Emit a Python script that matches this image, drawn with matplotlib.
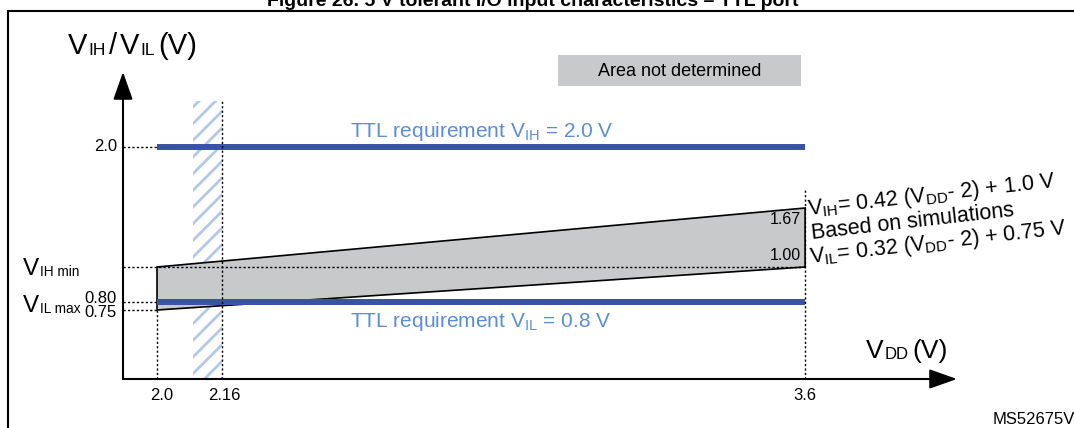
import numpy as np
import matplotlib
matplotlib.use("Agg")
import matplotlib.pyplot as plt
from matplotlib.patches import Rectangle, Polygon

# ---------------- data ----------------
VDD_RANGE = [2.0, 3.6]            # VDD span of the characteristics
TTL_VIH = 2.0                     # TTL requirement VIH
TTL_VIL = 0.8                     # TTL requirement VIL
VIH_LINE = [1.00, 1.67]           # VIH at VDD = 2.0 and 3.6
VIL_LINE = [0.75, 1.00]           # VIL at VDD = 2.0 and 3.6
UNDEFINED_VDD = [2.09, 2.16]      # hatched band
UNDEFINED_TOP = 2.245
X_TICKS = [2.0, 2.16, 3.6]
X_TICK_LABELS = ["2.0", "2.16", "3.6"]
Y_TICKS = [2.0, 0.80, 0.75]
Y_TICK_LABELS = ["2.0", "0.80", "0.75"]
RIGHT_LABELS = ["1.67", "1.00"]

# schematic (non-linear) vertical axis: value -> height in px above x axis
Y_SCHEM_VALUES = [0.0, 0.75, 0.80, 1.00, 1.67, 2.00, 2.40]
Y_SCHEM_HEIGHT = [0, 69, 77, 112, 171, 232, 307]

def fwd(v):
    return np.interp(v, Y_SCHEM_VALUES, Y_SCHEM_HEIGHT)

def inv(p):
    return np.interp(p, Y_SCHEM_HEIGHT, Y_SCHEM_VALUES)

# ---------------- style ----------------
W, H = 1074, 428
plt.rcParams.update({
    "font.family": ["Liberation Sans", "DejaVu Sans"],
    "mathtext.fontset": "custom",
    "mathtext.rm": "Liberation Sans",
    "mathtext.it": "Liberation Sans:italic",
    "mathtext.bf": "Liberation Sans:bold",
    "hatch.linewidth": 2.0,
})
BLUE = "#3953a4"
LBLUE = "#5b8dd6"
GRAY = "#c8c9cb"
HATCH = "#b3c8e8"
DOT = dict(color="black", lw=1.0, ls=(0, (1.6, 1.6)), zorder=5)

def P(x, y):
    return (x / W, 1 - y / H)

def ptext(x, y, s, **kw):
    kw.setdefault("ha", "left")
    kw.setdefault("va", "baseline")
    return fig.text(*P(x, y), s, **kw)

def seq(x, y, parts):
    """Lay text pieces (text, fontsize, dy, gap) left to right from pixel (x, y)."""
    renderer = fig.canvas.get_renderer()
    cur = x
    for s, fs, dy, gap in parts:
        cur += gap
        t = ptext(cur, y + dy, s, fontsize=fs)
        cur = t.get_window_extent(renderer).x1

fig = plt.figure(figsize=(W / 100, H / 100), dpi=100)
ax = fig.add_axes([123 / W, 49 / H, 834 / W, 307 / H])
ax.set_yscale("function", functions=(fwd, inv))
ax.set_xlim(1.916, 3.975)
ax.set_ylim(0, 2.4)
ax.axis("off")
x0 = ax.get_xlim()[0]

# hatched undefined band
band = Rectangle((UNDEFINED_VDD[0], 0), UNDEFINED_VDD[1] - UNDEFINED_VDD[0], UNDEFINED_TOP,
                 facecolor="none", edgecolor=HATCH, hatch="//", lw=0, zorder=1)
ax.add_patch(band)

# gray characteristics area
poly = Polygon([(VDD_RANGE[0], VIH_LINE[0]), (VDD_RANGE[1], VIH_LINE[1]),
                (VDD_RANGE[1], VIL_LINE[1]), (VDD_RANGE[0], VIL_LINE[0])],
               closed=True, facecolor=GRAY, edgecolor="black", lw=1.2, zorder=2)
ax.add_patch(poly)

# TTL requirement lines
ax.plot(VDD_RANGE, [TTL_VIH, TTL_VIH], color=BLUE, lw=4.3, solid_capstyle="butt", zorder=3)
ax.plot(VDD_RANGE, [TTL_VIL, TTL_VIL], color=BLUE, lw=4.3, solid_capstyle="butt", zorder=3)

# dotted guide lines
ax.plot([x0, VDD_RANGE[0]], [TTL_VIH, TTL_VIH], **DOT)
ax.plot([x0, VDD_RANGE[1]], [VIH_LINE[0], VIH_LINE[0]], **DOT)
ax.plot([x0, VDD_RANGE[0]], [TTL_VIL, TTL_VIL], **DOT)
ax.plot([x0, VDD_RANGE[0]], [VIL_LINE[0], VIL_LINE[0]], **DOT)
ax.plot([VDD_RANGE[0], VDD_RANGE[0]], [0, VIL_LINE[0]], **DOT)
ax.plot([UNDEFINED_VDD[1], UNDEFINED_VDD[1]], [0, UNDEFINED_TOP], **DOT)
ax.plot([VDD_RANGE[1], VDD_RANGE[1]], [0, 1.77], **DOT)

# axes arrows
arrow = dict(arrowstyle="-|>,head_length=1.7,head_width=0.6", lw=1.5, color="black",
             shrinkA=0, shrinkB=0, mutation_scale=10)
ax.annotate("", xy=(1, 0), xytext=(0, 0), xycoords="axes fraction", arrowprops=arrow,
            annotation_clip=False)
ax.annotate("", xy=(0, 1), xytext=(0, 0), xycoords="axes fraction", arrowprops=arrow,
            annotation_clip=False)

# tick labels
for x, lab in zip(X_TICKS, X_TICK_LABELS):
    dx = 5 if lab == "2.0" else (2 if lab == "2.16" else 0)
    ax.annotate(lab, xy=(x, 0), xycoords=("data", "axes fraction"), xytext=(dx, -16),
                textcoords="offset pixels", ha="center", va="center", fontsize=12)
y_offsets = {"2.0": (-6, 0, "center"), "0.80": (-6, -1, "baseline"), "0.75": (-6, -7, "baseline")}
for y, lab in zip(Y_TICKS, Y_TICK_LABELS):
    dx, dy, va = y_offsets[lab]
    ax.annotate(lab, xy=(0, y), xycoords=("axes fraction", "data"), xytext=(dx, dy),
                textcoords="offset pixels", ha="right", va=va, fontsize=12)
ax.annotate(RIGHT_LABELS[0], xy=(VDD_RANGE[1], VIH_LINE[1]), xytext=(-4, -12),
            textcoords="offset pixels", ha="right", va="center", fontsize=11.5, zorder=6)
ax.annotate(RIGHT_LABELS[1], xy=(VDD_RANGE[1], VIL_LINE[1]), xytext=(-4, 11),
            textcoords="offset pixels", ha="right", va="center", fontsize=11.5, zorder=6)

# frame and title
fig.add_artist(Rectangle((8 / W, -0.2), 2, (H - 11) / H + 0.2, transform=fig.transFigure,
                         fill=False, lw=1.5, edgecolor="black"))
ptext(533, 6, "Figure 26. 5 V tolerant I/O input characteristics \u2013 TTL port",
      ha="center", fontsize=14, fontweight="bold")

# axis titles (main glyphs with small baseline subscripts)
seq(68, 54, [("V", 21, 0, 0), ("IH", 12.5, 1, 0.5), ("/", 21, 0, 4), ("V", 21, 0, 3),
             ("IL", 12.5, 1, 0.5), ("(V)", 21, 0, 4)])
seq(866, 358, [("V", 19, 0, 0), ("DD", 12, 1, 0.5), ("(V)", 19, 0, 4)])
seq(23, 275, [("V", 17.5, 0, 0), ("IH min", 9.8, 1, 0.5)])
seq(23, 312, [("V", 17.5, 0, 0), ("IL max", 9.8, 1, 0.5)])

# "Area not determined" legend box
fig.add_artist(Rectangle(P(558, 86), 243 / W, 31 / H, transform=fig.transFigure,
                         facecolor=GRAY, edgecolor="none"))
ptext(680, 71, "Area not determined", ha="center", va="center", fontsize=13)

# TTL requirement labels
ptext(350, 137, r"TTL requirement V$_{\mathrm{IH}}$ = 2.0 V", fontsize=15, color=LBLUE)
ptext(350, 327, r"TTL requirement V$_{\mathrm{IL}}$ = 0.8 V", fontsize=15, color=LBLUE)

# rotated formula annotation
rot = 6.5
ptext(808, 215, r"V$_{\mathrm{IH}}$= 0.42 (V$_{\mathrm{DD}}$- 2) + 1.0 V", rotation=rot,
      rotation_mode="anchor", fontsize=15.5)
ptext(812, 239, "Based on simulations", rotation=rot, rotation_mode="anchor", fontsize=15.5)
ptext(810, 263, r"V$_{\mathrm{IL}}$= 0.32 (V$_{\mathrm{DD}}$- 2) + 0.75 V", rotation=rot,
      rotation_mode="anchor", fontsize=15.5)

ptext(993, 424, "MS52675V1", fontsize=12)

fig.savefig("out.png", dpi=100)
